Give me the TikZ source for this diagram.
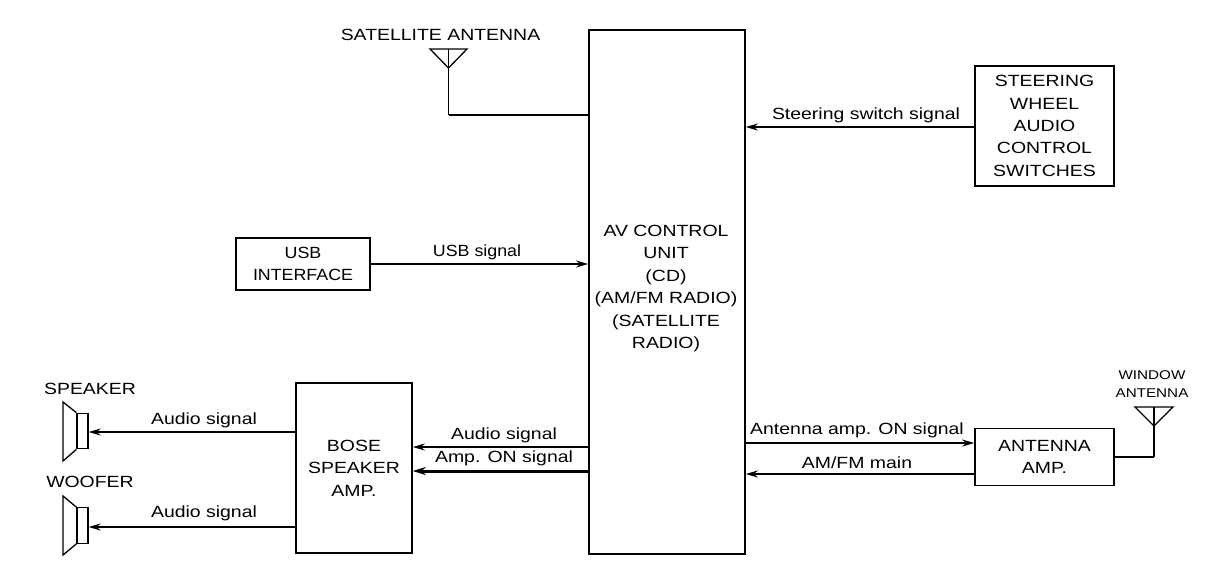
\documentclass[tikz,border=0pt]{standalone}
\usepackage{fontspec}
\setmainfont[FakeStretch=1.2]{Liberation Sans}
\newfontfamily\narrowf[FakeStretch=1.1]{Liberation Sans}
\usetikzlibrary{arrows.meta}
\tikzset{
  px/.style={x=1pt,y=-1pt},
  boxn/.style={draw,line width=1.6pt,inner sep=0pt,align=center,font=\fontsize{16.2}{22.4}\selectfont},
  lab/.style={inner sep=0pt,align=center,font=\fontsize{16.2}{22.4}\selectfont},
  sig/.style={line width=1.8pt,-{Stealth[length=12pt,width=7pt]}},
  sigthick/.style={line width=3pt,-{Stealth[length=13pt,width=8pt]}},
  wire/.style={line width=1.6pt},
  thinw/.style={line width=1.3pt},
  spk/.style={draw,line width=1.3pt,inner sep=0pt,minimum width=11pt,minimum height=35.5pt},
}
\begin{document}
\begin{tikzpicture}[px]
\useasboundingbox (0,0) rectangle (1216,582);
% boxes
\node[boxn,minimum width=156pt,minimum height=524pt] (av) at (667,292) {};
\node[lab] (avt) at (666,288.5) {AV CONTROL\\UNIT\\(CD)\\(AM/FM RADIO)\\(SATELLITE\\RADIO)};
\node[boxn,minimum width=139pt,minimum height=120pt] (steer) at (1044.5,126) {\raisebox{-1pt}{\parbox{130pt}{\centering STEERING\\WHEEL\\AUDIO\\CONTROL\\SWITCHES}}};
\node[boxn,minimum width=134pt,minimum height=52pt] (usb) at (303,264) {\narrowf USB\\\narrowf INTERFACE};
\node[boxn,minimum width=116pt,minimum height=170pt] (bose) at (354,468) {\raisebox{-2pt}{\parbox{110pt}{\centering BOSE\\SPEAKER\\AMP.}}};
\node[boxn,minimum width=139pt,minimum height=57pt] (aamp) at (1044.5,457) {ANTENNA\\AMP.};
% speakers
\node[spk] (spk1) at (82.5,431) {};
\node[spk] (spk2) at (82.5,525.5) {};
\coordinate (c1t) at (63,402); \coordinate (c1b) at (63,461);
\coordinate (c2t) at (63,496); \coordinate (c2b) at (63,555);
\draw[thinw] (spk1.north west) -- (c1t) -- (c1b) -- (spk1.south west);
\draw[thinw] (spk2.north west) -- (c2t) -- (c2b) -- (spk2.south west);
% antennas
\coordinate (sl) at (430,49); \coordinate (sr) at (467,49); \coordinate (st) at (448.5,68); \coordinate (stop) at (448.5,49);
\coordinate (sc) at (448.5,115);
\draw[thinw,line join=miter] (sl) -- (sr) -- (st) -- cycle;
\draw[thinw] (stop) -- (sc);
\draw[wire] (sc) -- (sc -| av.west);
\coordinate (wl) at (1135,407); \coordinate (wr) at (1173,407); \coordinate (wt) at (1154,426); \coordinate (wtop) at (1154,407);
\coordinate (wc) at (1154,457);
\draw[thinw] (wl) -- (wr) -- (wt) -- cycle;
\draw[thinw] (wtop) -- (wc);
\draw[wire] (wc) -- (wc -| aamp.east);
% signals
\coordinate (a1) at (975,127);
\draw[sig] (a1 -| steer.west) -- (a1 -| av.east);
\draw[sig] (usb.east) -- (usb.east -| av.west);
\coordinate (a2) at (589,447); \coordinate (a3) at (589,471);
\draw[sig] (a2 -| av.west) -- (a2 -| bose.east);
\draw[sigthick] (a3 -| av.west) -- (a3 -| bose.east);
\coordinate (a4) at (745,443); \coordinate (a5) at (745,474);
\draw[sig] (a4 -| av.east) -- (a4 -| aamp.west);
\draw[sig] (a5 -| aamp.west) -- (a5 -| av.east);
\coordinate (a6) at (296,432); \coordinate (a7) at (296,527);
\draw[sig] (a6 -| bose.west) -- (a6 -| spk1.east);
\draw[sig] (a7 -| bose.west) -- (a7 -| spk2.east);
% labels
\node[lab] (l1) at (440.5,35) {SATELLITE ANTENNA};
\node[lab] (l2) at (866,115) {Steering switch signal};
\node[lab] (l3) at (477,252) {\narrowf USB signal};
\node[lab] (l4) at (204,420) {Audio signal};
\node[lab] (l5) at (204,513) {Audio signal};
\node[lab] (l6) at (504,435) {Audio signal};
\node[lab] (l7) at (504,458) {Amp. ON signal};
\node[lab] (l8) at (857,430) {Antenna amp. ON signal};
\node[lab] (l9) at (857,463) {AM/FM main};
\node[lab] (l10) at (90,389) {SPEAKER};
\node[lab] (l11) at (90,482) {WOOFER};
\node[lab,font=\fontsize{12.7}{18.5}\selectfont] (l12) at (1152,384) {WINDOW\\ANTENNA};
\end{tikzpicture}
\end{document}
